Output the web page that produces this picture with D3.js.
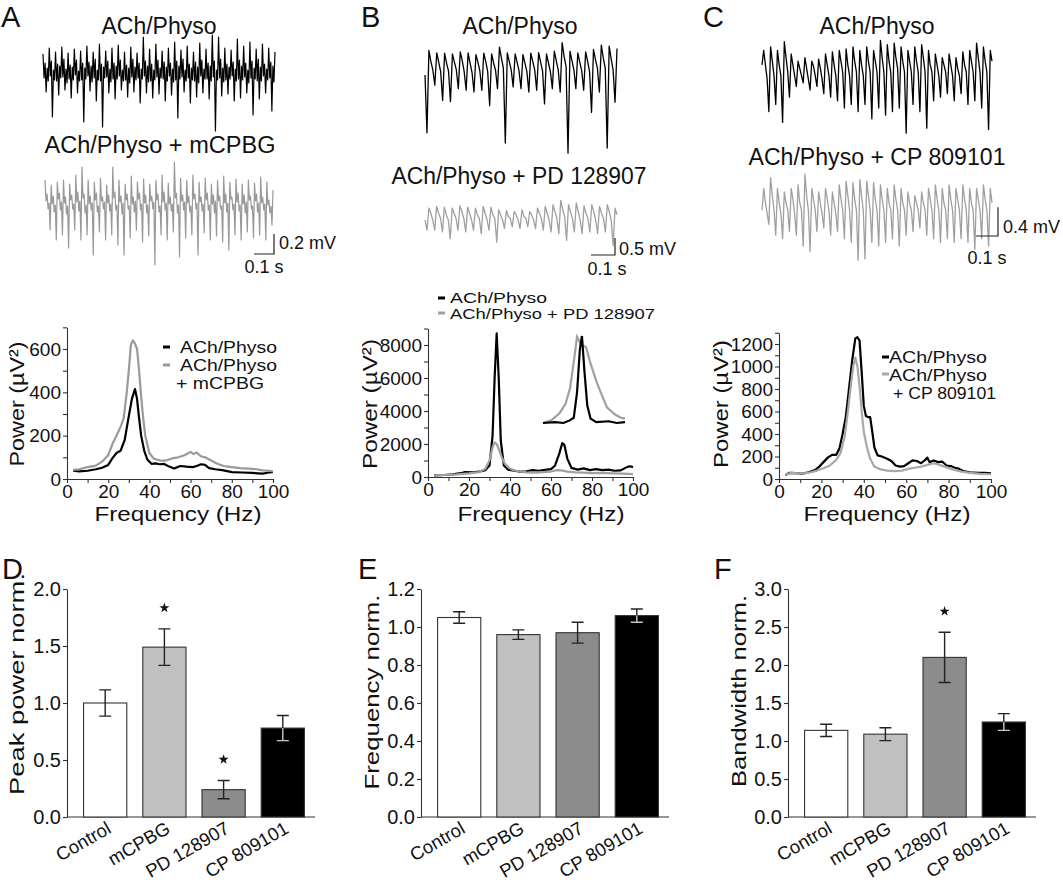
<!DOCTYPE html>
<html><head><meta charset="utf-8">
<script src="https://cdn.jsdelivr.net/npm/d3@7"></script>
<style>
body{margin:0;background:#fff;}
svg text{font-family:"Liberation Sans",Arial,Helvetica,sans-serif;fill:#111;}
</style></head><body>
<svg id="fig" width="1063" height="885"></svg>
<script>
// ---------------- DATA ----------------
// raw traces, µV, evenly sampled
const traceA_ctrl = [180,-60,90,-200,40,-90, 240,-40,110,-450,20,-80, 200,-90,80,-230,60,-60, 250,-50,130,-180,30,-110, 190,-70,70,-260,50,-80, 230,-30,120,-210,10,-90, 210,-80,90,-500,40,-70, 260,-40,100,-190,60,-100, 200,-60,130,-290,20,-80, 280,-90,80,-550,50,-60, 210,-50,110,-210,30,-100, 240,-70,90,-270,60,-70, 270,-40,120,-180,20,-90, 200,-80,70,-250,40,-110, 250,-50,130,-200,50,-80, 190,-60,90,-310,30,-70, 350,-40,110,-210,60,-100, 230,-90,80,-260,20,-80, 280,-50,120,-220,40,-60, 210,-70,100,-290,50,-90, 240,-40,90,-230,30,-100, 300,-80,110,-460,60,-70, 220,-50,130,-200,20,-90, 260,-60,80,-310,40,-80, 200,-90,100,-250,50,-110, 290,-40,120,-210,30,-70, 230,-70,90,-270,60,-90, 370,-50,110,-590,20,-80, 350,-60,130,-240,40,-100, 240,-80,80,-220,50,-70, 220,-40,100,-290,30,-90, 330,-70,120,-260,60,-80, 260,-50,90,-210,20,-110, 300,-60,110,-430,40,-70, 230,-90,130,-270,50,-90, 280,-40,80,-210,30,-80, 240,-60,100,-390,60,-100, 200];
const traceA_drug = [300,90,160,10,70,-200, 250,60,140,-20,50,-300, 280,110,170,0,80,-250, 300,70,130,-40,40,-380, 260,100,150,10,60,-200, 350,80,180,-10,90,-300, 430,120,160,-30,50,-250, 300,60,140,0,70,-450, 280,100,170,-20,40,-220, 320,90,130,10,80,-300, 250,70,150,-10,60,-250, 430,120,180,0,50,-350, 300,80,140,-40,70,-450, 260,100,160,10,40,-280, 340,60,130,-20,90,-200, 280,110,170,0,60,-320, 310,70,150,-30,50,-260, 260,90,140,10,80,-550, 300,100,160,-20,40,-250, 350,80,180,0,70,-300, 270,60,130,-10,60,-220, 480,120,170,-30,50,-470, 320,90,150,0,80,-280, 300,70,140,-20,40,-250, 350,110,160,10,70,-450, 280,80,130,-10,60,-230, 320,100,170,0,50,-300, 260,60,150,-30,90,-260, 300,90,140,10,40,-320, 340,70,160,-20,70,-400, 280,110,130,0,60,-250, 310,80,170,-10,50,-300, 260,60,150,-30,80,-220, 300,100,140,10,40,-280, 270,90,160,-20,70,-250, 330,70,130,0,60,-300, 280,50,100,-30,40,-150, 200];
const traceB_ctrl = [0,-1700, 720,400,150,-300, 650,380,100,-750, 640,350,120,-780, 620,380,150,-400, 680,420,100,-450, 650,350,80,-500, 600,380,120,-450, 640,400,100,-900, 620,360,140,-400, 820,500,200,-2000, 650,400,150,-350, 620,380,120,-400, 600,350,100,-500, 640,400,150,-450, 660,380,120,-850, 620,360,100,-400, 700,420,150,-500, 950,550,250,-2300, 700,420,150,-400, 650,380,120,-450, 680,400,100,-1100, 750,450,200,-500, 880,500,200,-2150, 850,480,150,-800, 780];
const traceB_drug = [0,-300, 350,200,0,-300, 400,200,50,-350, 380,150,0,-550, 350,200,50,-300, 420,250,50,-350, 380,200,0,-300, 350,150,50,-400, 400,200,0,-300, 380,150,50,-650, 300,150,0,-250, 280,100,50,-200, 250,150,0,-250, 300,100,50,-200, 250,150,0,-250, 350,200,50,-300, 400,200,0,-350, 450,250,50,-400, 580,300,100,-600, 450,250,50,-350, 500,250,0,-400, 420,200,50,-350, 450,250,0,-400, 400,200,50,-350, 450,250,0,-750, 350,150];
const traceC_ctrl = [100, 300,100,-100,-550, 350,150,-50,-450, 300,100,-50,-700, 420,200,0,-350, 250,100,-50,-200, 150,50,-50,-150, 200,50,-100,-250, 150,80,-50,-200, 180,50,-100,-300, 250,100,-50,-350, 280,100,-50,-400, 300,150,0,-500, 320,100,-50,-450, 350,150,0,-550, 300,100,-50,-450, 350,150,0,-650, 300,150,0,-500, 440,200,0,-600, 380,150,0,-550, 400,200,50,-500, 350,150,0,-850, 300,150,0,-450, 350,150,0,-550, 380,200,0,-780, 300,100,0,-400, 250,100,-50,-350, 200,100,0,-300, 250,100,-50,-400, 200,50,-50,-300, 280,100,0,-450, 300,150,0,-400, 400,200,0,-500, 350,150,0,-800, 300,150];
const traceC_drug = [0, 300,100,-50,-200, 450,200,0,-350, 300,100,-50,-400, 250,100,0,-300, 300,150,-50,-350, 350,100,0,-500, 500,200,0,-580, 300,150,0,-300, 250,100,-50,-250, 300,150,0,-350, 250,100,-50,-300, 350,150,0,-400, 400,200,0,-450, 380,150,0,-700, 420,200,0,-680, 400,200,0,-450, 380,150,0,-500, 350,150,0,-450, 300,100,0,-400, 350,150,0,-500, 300,100,0,-350, 250,100,0,-300, 200,100,0,-250, 250,100,0,-350, 300,150,0,-400, 350,150,0,-450, 300,100,0,-400, 350,150,0,-450, 300,150,0,-400, 350,150,0,-450, 300,100,0,-550, 300,150,0,-400, 350,150,0,-500, 300,100];
const traceDur = [1.16, 1.14, 0.8, 0.8, 1.045, 1.045];   // seconds
const scaleBarMv = [0.2, 0.5, 0.4];
const scaleBarS = [0.1, 0.1, 0.1];

// power spectra [Hz, µV²]
const specA_ctrl = [[3,38],[6,35],[10,38],[14,45],[17,52],[20,65],[22,95],[24,120],[26,130],[28,180],[30,290],[31.5,370],[33,415],[34,370],[35,280],[36,200],[37.5,130],[39,90],[41,70],[43,72],[45,68],[47,70],[49,60],[52,48],[55,60],[58,57],[61,55],[63,60],[65,68],[67,65],[69,50],[72,45],[76,40],[80,32],[85,30],[90,28],[95,25],[98,30],[100,32]];
const specA_drug = [[3,42],[6,45],[10,55],[14,62],[17,80],[20,110],[22,160],[24,200],[26,240],[27.5,280],[29,400],[30,500],[31,620],[32,640],[33,625],[34,600],[35,500],[36,380],[37,280],[38,200],[40,120],[42,95],[45,85],[48,85],[51,95],[54,100],[57,110],[60,125],[61.5,115],[63,122],[65,105],[67,100],[70,85],[73,70],[76,60],[80,55],[84,50],[88,48],[92,45],[95,40],[98,38],[100,35]];
const specB_ctrl = [[3,100],[8,120],[12,160],[16,230],[18,300],[22,280],[26,350],[28,420],[30,700],[31.5,2500],[32.5,6000],[33.5,8700],[34.5,6000],[35.5,2200],[37,700],[39,450],[42,380],[45,330],[48,350],[51,420],[54,380],[57,430],[60,480],[62,700],[64,1400],[65.5,2050],[66.5,1950],[68,1100],[70,550],[73,450],[76,520],[79,420],[82,480],[85,420],[88,450],[91,380],[94,400],[97,600],[98.5,650],[100,600]];
const specB_drug = [[3,100],[8,120],[14,160],[20,220],[25,300],[28,500],[30,1000],[31.5,1800],[32.5,2100],[33.5,2000],[34.5,1700],[36,1200],[37.5,800],[39,600],[41,450],[44,350],[48,280],[52,260],[56,300],[60,330],[63,420],[65,400],[68,330],[72,280],[76,260],[80,240],[85,250],[90,220],[95,200],[100,180]];
const insetB_ctrl = [[24,0],[27,0.01],[29,0],[30.5,0.03],[31.5,0.06],[32.3,0.35],[33,0.85],[33.5,1.0],[34.1,0.6],[34.8,0.2],[35.6,0.05],[37,0.01],[40,0.02],[42,0.0],[44,0.01]];
const insetB_drug = [[24,0],[26,0.03],[28,0.11],[29.5,0.22],[30.6,0.4],[31.5,0.7],[32.3,0.99],[33.3,0.9],[34.5,0.87],[35.5,0.7],[37,0.48],[38,0.36],[39.6,0.18],[41.5,0.1],[43,0.06],[44,0.05]];
const specC_ctrl = [[3,35],[5,55],[8,52],[11,48],[14,60],[17,80],[19,110],[21,150],[23,190],[25,215],[27,215],[28.5,270],[30,400],[31.5,550],[33,800],[34.5,1050],[36,1250],[37,1260],[38,1230],[39,950],[40,650],[41,560],[42,550],[43,550],[44,420],[45,280],[46.5,210],[48.5,200],[51,180],[53,160],[55,120],[57,110],[59,115],[61,140],[63,165],[65,160],[67,140],[69,170],[70,190],[71,150],[73,165],[75,150],[77,155],[79,120],[81,115],[83,100],[85,90],[87,70],[90,60],[94,55],[97,55],[100,50]];
const specC_drug = [[3,40],[6,55],[9,50],[12,50],[15,60],[18,75],[21,95],[24,120],[27,170],[29,230],[31,380],[32.5,600],[34,850],[35,1000],[36,1080],[37,1000],[38,820],[39,600],[40,420],[41.5,280],[43,180],[45,110],[48,85],[51,75],[55,70],[58,75],[61,90],[64,100],[67,110],[70,125],[73,140],[75,130],[78,110],[82,85],[86,65],[90,55],[95,45],[100,42]];

// bar summaries
const categories = ["Control", "mCPBG", "PD 128907", "CP 809101"];
const peakPower = [1.00, 1.49, 0.24, 0.78];
const peakPowerErr = [0.115, 0.16, 0.08, 0.11];
const peakPowerSig = [false, true, true, false];
const freqNorm = [1.05, 0.96, 0.97, 1.06];
const freqNormErr = [0.03, 0.025, 0.055, 0.035];
const freqNormSig = [false, false, false, false];
const bandNorm = [1.14, 1.09, 2.10, 1.25];
const bandNormErr = [0.08, 0.085, 0.33, 0.11];
const bandNormSig = [false, false, true, false];
const barFills = ["#ffffff", "#c0c0c0", "#8c8c8c", "#000000"];

// ---------------- DRAWING ----------------
const svg = d3.select("#fig");
const AX = "#333";

function txt(x, y, s, size, anchor, len) {
  const t = svg.append("text").attr("x", x).attr("y", y).attr("font-size", size)
    .attr("text-anchor", anchor || "start").text(s);
  if (len) t.attr("textLength", len).attr("lengthAdjust", "spacingAndGlyphs");
  return t;
}

function drawTrace(data, dur, x0, x1, yc, pxPerMv, color, w) {
  const t = d3.scaleLinear().domain([0, dur]).range([x0, x1]);
  const y = d3.scaleLinear().domain([0, 1000]).range([yc, yc - pxPerMv]);
  const n = data.length;
  const line = d3.line().x((d, i) => t(i * dur / (n - 1))).y(d => y(d));
  svg.append("path").attr("d", line(data)).attr("fill", "none")
    .attr("stroke", color).attr("stroke-width", w || 1.3).attr("stroke-linejoin", "round");
  return { t, y };
}

function scaleBar(sc, mv, s, xr, yb, mvLabel, sLabel, lblMv, lblS) {
  const h = sc.t(s) - sc.t(0);
  const v = sc.y(0) - sc.y(mv * 1000);
  svg.append("path").attr("d", `M${xr - h},${yb}H${xr}V${yb - v}`)
    .attr("fill", "none").attr("stroke", "#222").attr("stroke-width", 1.2);
  txt(lblMv[0], lblMv[1], mvLabel, 18, "start");
  txt(lblS[0], lblS[1], sLabel, 18, "middle");
}

// titles
txt(159, 34, "ACh/Physo", 23, "middle");
txt(160, 153, "ACh/Physo + mCPBG", 23, "middle", 231);
txt(520, 34, "ACh/Physo", 23, "middle");
txt(519, 184, "ACh/Physo + PD 128907", 23, "middle", 255);
txt(877, 34, "ACh/Physo", 23, "middle");
txt(877, 165, "ACh/Physo + CP 809101", 23, "middle", 257);

// traces
const tA1 = drawTrace(traceA_ctrl, traceDur[0], 43, 275, 72, 100, "#000", 1.2);
const tA2 = drawTrace(traceA_drug, traceDur[1], 45, 273, 210, 100, "#999", 1.2);
const tB1 = drawTrace(traceB_ctrl, traceDur[2], 425, 617, 75, 34, "#000");
const tB2 = drawTrace(traceB_drug, traceDur[3], 425, 617, 220, 34, "#a0a0a0");
const tC1 = drawTrace(traceC_ctrl, traceDur[4], 762, 992, 72, 72, "#000");
const tC2 = drawTrace(traceC_drug, traceDur[5], 762, 992, 210, 72, "#a0a0a0");

scaleBar(tA2, scaleBarMv[0], scaleBarS[0], 274, 254, "0.2 mV", "0.1 s", [279, 249], [264, 273]);
scaleBar(tB2, scaleBarMv[1], scaleBarS[1], 615, 255, "0.5 mV", "0.1 s", [619, 255], [607, 275]);
scaleBar(tC2, scaleBarMv[2], scaleBarS[2], 998, 236, "0.4 mV", "0.1 s", [1003, 233], [987, 264]);

// spectra
function spectrum(o) {
  const x = d3.scaleLinear().domain([0, 100]).range([o.x0, o.x1]);
  const y = d3.scaleLinear().domain([0, o.pmax]).range([o.y0, o.yTop]);
  const g = svg.append("g");
  const xa = d3.axisBottom(x).tickValues(d3.range(0, 101, 10))
    .tickFormat(d => d % 20 === 0 ? d : "").tickSize(4).tickSizeOuter(0).tickPadding(2);
  const ya = d3.axisLeft(y).tickValues(d3.range(0, o.pmax + 1, o.minor))
    .tickFormat(d => d % o.major === 0 ? d : "").tickSize(4).tickSizeOuter(0).tickPadding(2);
  const gx = g.append("g").attr("transform", `translate(0,${o.y0})`).call(xa);
  const gy = g.append("g").attr("transform", `translate(${o.x0},0)`).call(ya);
  [gx, gy].forEach(a => {
    a.selectAll("path,line").attr("stroke", AX).attr("stroke-width", 1.1);
    a.selectAll("text").attr("font-size", 19).attr("fill", "#111")
      .attr("font-family", '"Liberation Sans",Arial,sans-serif');
  });
  const line = d3.line().x(d => x(d[0])).y(d => y(d[1]));
  o.series.forEach(s => {
    g.append("path").attr("d", line(s.data)).attr("fill", "none")
      .attr("stroke", s.color).attr("stroke-width", 2.2).attr("stroke-linejoin", "round");
  });
  txt(o.xlabX, 521, "Frequency (Hz)", 20, "middle", 167);
  svg.append("text").attr("transform", `translate(${o.ylabX},404) rotate(-90)`)
    .attr("text-anchor", "middle").attr("dy", "0.35em").attr("font-size", 20)
    .attr("textLength", o.ylabLen).attr("lengthAdjust", "spacingAndGlyphs").text("Power (µV²)");
  return { x, y };
}

spectrum({ x0: 67, x1: 273, y0: 479, yTop: 479 - 700 * (130 / 600), pmax: 700, minor: 100, major: 200,
  xlabX: 178, ylabX: 17, ylabLen: 125,
  series: [{ data: specA_ctrl, color: "#000" }, { data: specA_drug, color: "#9a9a9a" }] });
spectrum({ x0: 428, x1: 633, y0: 477, yTop: 477 - 9000 * (132 / 8000), pmax: 9000, minor: 1000, major: 2000,
  xlabX: 541, ylabX: 370, ylabLen: 130,
  series: [{ data: specB_ctrl, color: "#000" }, { data: specB_drug, color: "#a0a0a0" }] });
spectrum({ x0: 779, x1: 991, y0: 479, yTop: 479 - 1300 * (135 / 1200), pmax: 1300, minor: 100, major: 200,
  xlabX: 887, ylabX: 721, ylabLen: 128,
  series: [{ data: specC_ctrl, color: "#000" }, { data: specC_drug, color: "#a8a8a8" }] });

// inset in B (normalised power, 24-44 Hz)
(function () {
  const x = d3.scaleLinear().domain([24, 44]).range([543, 625]);
  const y = d3.scaleLinear().domain([0, 1]).range([423, 336]);
  const line = d3.line().x(d => x(d[0])).y(d => y(d[1]));
  svg.append("path").attr("d", line(insetB_drug)).attr("fill", "none").attr("stroke", "#a0a0a0").attr("stroke-width", 2.2);
  svg.append("path").attr("d", line(insetB_ctrl)).attr("fill", "none").attr("stroke", "#000").attr("stroke-width", 2.2);
})();

// legends
function dash(x, y, color) {
  svg.append("line").attr("x1", x).attr("x2", x + 7).attr("y1", y).attr("y2", y)
    .attr("stroke", color).attr("stroke-width", 3);
}
dash(163, 347, "#000"); txt(180, 353, "ACh/Physo", 16, "start", 97);
dash(163, 365, "#9a9a9a"); txt(180, 371, "ACh/Physo", 16, "start", 97);
txt(176, 389, "+ mCPBG", 16, "start", 88);
dash(438, 298, "#000"); txt(450, 303, "ACh/Physo", 14, "start", 97);
dash(438, 313, "#a0a0a0"); txt(450, 319, "ACh/Physo + PD 128907", 14, "start", 205);
dash(882, 357, "#000"); txt(889, 363, "ACh/Physo", 16, "start", 98);
dash(882, 374, "#a8a8a8"); txt(889, 381, "ACh/Physo", 16, "start", 98);
txt(893, 399, "+ CP 809101", 16, "start", 103);

// bar charts
function barChart(o) {
  const x = d3.scaleBand().domain(categories).range([o.x0, o.x0 + 254]).paddingInner(0.27).paddingOuter(0.28);
  const y = d3.scaleLinear().domain([0, o.ymax]).range([817, 589]);
  const g = svg.append("g");
  const ya = d3.axisLeft(y).tickValues(d3.range(0, o.ymax + 1e-9, o.step))
    .tickFormat(d3.format(".1f")).tickSize(4).tickSizeOuter(0).tickPadding(2);
  const gy = g.append("g").attr("transform", `translate(${o.x0},0)`).call(ya);
  gy.selectAll("path,line").attr("stroke", AX).attr("stroke-width", 1.1);
  gy.selectAll("text").attr("font-size", 20).attr("fill", "#111")
    .attr("font-family", '"Liberation Sans",Arial,sans-serif');
  g.append("line").attr("x1", o.x0).attr("x2", o.x0 + 248).attr("y1", 817).attr("y2", 817)
    .attr("stroke", AX).attr("stroke-width", 1.1);
  categories.forEach((c, i) => {
    const v = o.values[i], e = o.errs[i];
    const bx = x(c), bw = x.bandwidth(), cx = bx + bw / 2;
    g.append("rect").attr("x", bx).attr("y", y(v)).attr("width", bw).attr("height", 817 - y(v))
      .attr("fill", barFills[i]).attr("stroke", "#333").attr("stroke-width", 1.1);
    const dark = barFills[i] === "#000000";
    const errG = g.append("g").attr("stroke-width", 1.4);
    errG.append("path").attr("d", `M${cx},${y(v)}V${y(v + e)}M${cx - 6},${y(v + e)}H${cx + 6}`)
      .attr("stroke", "#222").attr("fill", "none");
    errG.append("path").attr("d", `M${cx},${y(v)}V${y(v - e)}M${cx - 6},${y(v - e)}H${cx + 6}`)
      .attr("stroke", dark ? "#c8c8c8" : "#222").attr("fill", "none");
    if (o.sig[i]) {
      g.append("path").attr("d", d3.symbol(d3.symbolStar, 32)())
        .attr("transform", `translate(${cx},${y(v + e) - 21})`).attr("fill", "#111");
    }
    svg.append("text").attr("transform", `translate(${cx + 7},832) rotate(-30)`)
      .attr("text-anchor", "end").attr("font-size", 18.5).text(c);
  });
  svg.append("text").attr("transform", `translate(${o.labX},${o.labY}) rotate(-90)`)
    .attr("text-anchor", "middle").attr("dy", "0.35em").attr("font-size", 21)
    .attr("textLength", o.labLen).attr("lengthAdjust", "spacingAndGlyphs").text(o.label);
}

barChart({ x0: 67, ymax: 2.0, step: 0.5, values: peakPower, errs: peakPowerErr, sig: peakPowerSig,
  label: "Peak power norm.", labX: 17, labY: 684, labLen: 222 });
barChart({ x0: 421, ymax: 1.2, step: 0.2, values: freqNorm, errs: freqNormErr, sig: freqNormSig,
  label: "Frequency norm.", labX: 372, labY: 692, labLen: 195 });
barChart({ x0: 788, ymax: 3.0, step: 0.5, values: bandNorm, errs: bandNormErr, sig: bandNormSig,
  label: "Bandwidth norm.", labX: 739, labY: 691, labLen: 192 });

// panel letters
[["A", 1, 27], ["B", 361, 27], ["C", 703, 27], ["D", 2, 579], ["E", 358, 579], ["F", 714, 579]]
  .forEach(d => txt(d[1], d[2], d[0], 29, "start"));
</script></body></html>
